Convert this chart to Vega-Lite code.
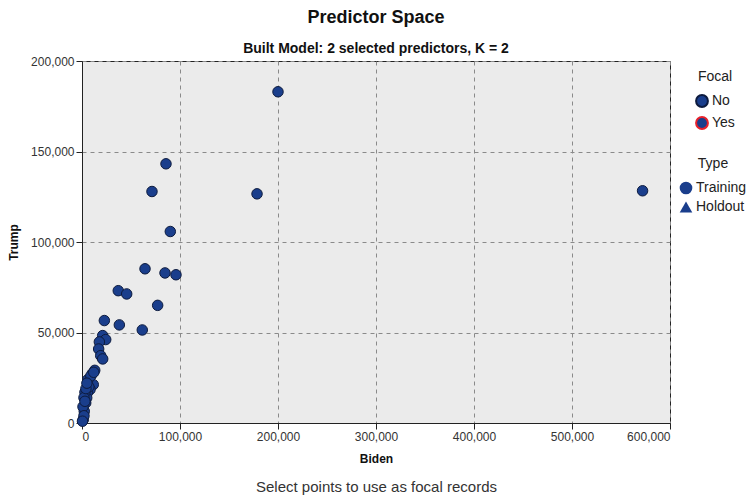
{
  "$schema": "https://vega.github.io/schema/vega-lite/v6.json",
  "width": 588,
  "height": 362,
  "autosize": "none",
  "padding": {"left": 82, "top": 61, "right": 86, "bottom": 78},
  "background": "white",
  "title": {
    "text": "Predictor Space",
    "subtitle": "Built Model: 2 selected predictors, K = 2",
    "anchor": "middle",
    "font": "Liberation Sans",
    "fontSize": 18,
    "fontWeight": "bold",
    "color": "#111",
    "subtitleFont": "Liberation Sans",
    "subtitleFontSize": 14,
    "subtitleFontWeight": "bold",
    "subtitleColor": "#111",
    "subtitlePadding": 15,
    "offset": -1
  },
  "config": {
    "view": {"fill": "#ebebeb", "stroke": "#222", "strokeWidth": 1},
    "font": "Liberation Sans",
    "axis": {
      "labelFont": "Liberation Sans",
      "labelFontSize": 12,
      "labelColor": "#333",
      "titleFont": "Liberation Sans",
      "titleFontSize": 12,
      "titleFontWeight": "bold",
      "titleColor": "#111",
      "domainColor": "#222",
      "tickColor": "#222",
      "tickSize": 6,
      "gridColor": "#8a8a8a",
      "gridDash": [4, 4],
      "gridWidth": 1,
      "labelOverlap": false
    },
    "legend": {
      "titleFont": "Liberation Sans",
      "titleFontSize": 14,
      "titleFontWeight": "normal",
      "titleColor": "#222",
      "titleAnchor": "middle",
      "labelFont": "Liberation Sans",
      "labelFontSize": 14,
      "labelColor": "#222",
      "rowPadding": 2,
      "titlePadding": 10,
      "symbolSize": 160,
      "labelOffset": 3
    }
  },
  "data": {
    "values": [
      {"Biden": 200000, "Trump": 183000, "Focal": "No", "Type": "Training"},
      {"Biden": 572000, "Trump": 128300, "Focal": "No", "Type": "Training"},
      {"Biden": 178600, "Trump": 126600, "Focal": "No", "Type": "Training"},
      {"Biden": 85700, "Trump": 143200, "Focal": "No", "Type": "Training"},
      {"Biden": 71400, "Trump": 127900, "Focal": "No", "Type": "Training"},
      {"Biden": 90100, "Trump": 105800, "Focal": "No", "Type": "Training"},
      {"Biden": 64300, "Trump": 85200, "Focal": "No", "Type": "Training"},
      {"Biden": 84700, "Trump": 82900, "Focal": "No", "Type": "Training"},
      {"Biden": 95900, "Trump": 81900, "Focal": "No", "Type": "Training"},
      {"Biden": 37000, "Trump": 73100, "Focal": "No", "Type": "Training"},
      {"Biden": 45600, "Trump": 71300, "Focal": "No", "Type": "Training"},
      {"Biden": 77200, "Trump": 65000, "Focal": "No", "Type": "Training"},
      {"Biden": 22800, "Trump": 56600, "Focal": "No", "Type": "Training"},
      {"Biden": 38100, "Trump": 54200, "Focal": "No", "Type": "Training"},
      {"Biden": 61500, "Trump": 51400, "Focal": "No", "Type": "Training"},
      {"Biden": 21100, "Trump": 48300, "Focal": "No", "Type": "Training"},
      {"Biden": 24200, "Trump": 46100, "Focal": "No", "Type": "Training"},
      {"Biden": 17700, "Trump": 44800, "Focal": "No", "Type": "Training"},
      {"Biden": 17000, "Trump": 40900, "Focal": "No", "Type": "Training"},
      {"Biden": 19100, "Trump": 37200, "Focal": "No", "Type": "Training"},
      {"Biden": 21100, "Trump": 35400, "Focal": "No", "Type": "Training"},
      {"Biden": 13000, "Trump": 29100, "Focal": "No", "Type": "Training"},
      {"Biden": 10500, "Trump": 27300, "Focal": "No", "Type": "Training"},
      {"Biden": 11500, "Trump": 21200, "Focal": "No", "Type": "Training"},
      {"Biden": 8200, "Trump": 18500, "Focal": "No", "Type": "Training"},
      {"Biden": 5400, "Trump": 16700, "Focal": "No", "Type": "Training"},
      {"Biden": 4800, "Trump": 13900, "Focal": "No", "Type": "Training"},
      {"Biden": 3800, "Trump": 11100, "Focal": "No", "Type": "Training"},
      {"Biden": 2300, "Trump": 6500, "Focal": "No", "Type": "Training"},
      {"Biden": 1300, "Trump": 1900, "Focal": "No", "Type": "Training"},
      {"Biden": 6000, "Trump": 24000, "Focal": "No", "Type": "Training"},
      {"Biden": 3000, "Trump": 17000, "Focal": "No", "Type": "Training"},
      {"Biden": 2000, "Trump": 14000, "Focal": "No", "Type": "Training"},
      {"Biden": 7000, "Trump": 20000, "Focal": "No", "Type": "Training"},
      {"Biden": 1000, "Trump": 9000, "Focal": "No", "Type": "Training"},
      {"Biden": 9000, "Trump": 26000, "Focal": "No", "Type": "Training"},
      {"Biden": 12000, "Trump": 28000, "Focal": "No", "Type": "Training"},
      {"Biden": 2000, "Trump": 4000, "Focal": "No", "Type": "Training"},
      {"Biden": 500, "Trump": 1000, "Focal": "No", "Type": "Training"},
      {"Biden": 4000, "Trump": 19000, "Focal": "No", "Type": "Training"},
      {"Biden": 3000, "Trump": 12000, "Focal": "No", "Type": "Training"},
      {"Biden": 5000, "Trump": 22000, "Focal": "No", "Type": "Training"}
    ]
  },
  "layer": [
    {
      "mark": {"type": "point", "filled": true, "fill": "#1a3e8c", "size": 110, "strokeWidth": 1, "opacity": 1},
      "encoding": {
        "x": {
          "field": "Biden", "type": "quantitative",
          "scale": {"domain": [0, 600000], "nice": false, "zero": true},
          "axis": {"title": "Biden", "values": [0, 100000, 200000, 300000, 400000, 500000, 600000], "format": ",d", "labelPadding": 2, "titlePadding": 11, "grid": true}
        },
        "y": {
          "field": "Trump", "type": "quantitative",
          "scale": {"domain": [0, 200000], "nice": false},
          "axis": {"title": "Trump", "values": [0, 50000, 100000, 150000, 200000], "format": ",d", "labelPadding": 2, "titlePadding": 10, "grid": true}
        },
        "stroke": {
          "field": "Focal", "type": "nominal",
          "scale": {"domain": ["No", "Yes"], "range": ["#0d1b3e", "#e8202a"]},
          "legend": {"title": "Focal", "orient": "none", "legendX": 613, "legendY": 9, "symbolFillColor": "#1a3e8c", "symbolStrokeWidth": 2, "symbolType": "circle", "symbolSize": 140}
        },
        "shape": {
          "field": "Type", "type": "nominal",
          "scale": {"domain": ["Training", "Holdout"], "range": ["circle", "triangle-up"]},
          "legend": {"title": "Type", "orient": "none", "legendX": 597, "legendY": 96, "symbolFillColor": "#1a3e8c", "symbolStrokeColor": "#0d1b3e", "symbolStrokeWidth": 1}
        }
      }
    },
    {
      "mark": {"type": "point", "opacity": 0},
      "encoding": {
        "x": {
          "field": "Biden", "type": "quantitative",
          "axis": {"orient": "bottom", "title": "Select points to use as focal records", "labels": false, "ticks": false, "domain": false, "grid": false, "offset": 52, "titlePadding": 4, "titleFontSize": 15, "titleFontWeight": "normal", "titleColor": "#333"}
        }
      }
    }
  ],
  "resolve": {"axis": {"x": "independent"}}
}
